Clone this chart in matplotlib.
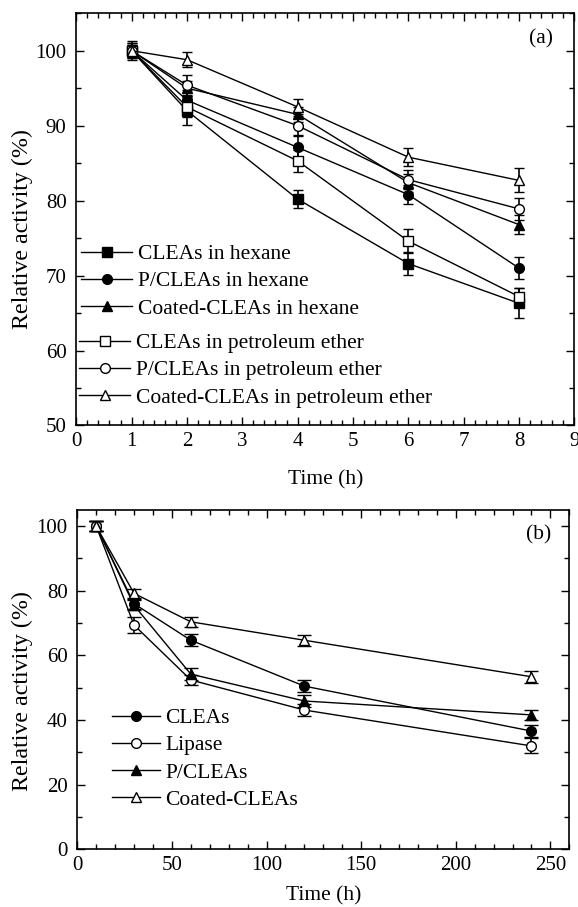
import matplotlib
matplotlib.use("Agg")
import matplotlib.pyplot as plt
from matplotlib.ticker import MultipleLocator

plt.rcParams['font.family'] = ['Liberation Serif', 'DejaVu Serif']
plt.rcParams['font.size'] = 15

# (a) stability in organic solvents
temps_a = [1, 2, 4, 6, 8]
labels_a = ["CLEAs in hexane", "P/CLEAs in hexane", "Coated-CLEAs in hexane",
            "CLEAs in petroleum ether", "P/CLEAs in petroleum ether",
            "Coated-CLEAs in petroleum ether"]
clea_hex = [100, 92.0, 80.2, 71.6, 66.3]
pclea_hex = [100, 93.4, 87.1, 80.8, 71.0]
coat_hex = [100, 95.0, 91.5, 82.4, 76.8]
clea_pe = [100, 92.5, 85.3, 74.6, 67.2]
pclea_pe = [100, 95.4, 90.0, 82.8, 78.9]
coat_pe = [100, 98.8, 92.5, 85.8, 82.7]
err_clea_hex = [1.3, 1.9, 1.2, 1.5, 2.0]
err_pclea_hex = [1.0, 1.3, 1.5, 1.3, 1.5]
err_coat_hex = [0.8, 1.0, 1.0, 1.2, 1.3]
err_clea_pe = [1.0, 1.3, 1.5, 1.6, 1.2]
err_pclea_pe = [0.8, 1.3, 1.3, 1.3, 1.5]
err_coat_pe = [0.6, 1.0, 1.0, 1.2, 1.6]

# (b) storage stability
temps_b = [10, 30, 60, 120, 240]
labels_b = ["CLEAs", "Lipase", "P/CLEAs", "Coated-CLEAs"]
clea_b = [100, 76.0, 64.7, 50.5, 36.6]
lipase_b = [100, 69.4, 52.4, 43.1, 32.0]
pclea_b = [100, 75.5, 54.2, 45.9, 41.6]
coat_b = [100, 79.2, 70.4, 64.7, 53.4]
err_clea_b = [1.5, 1.5, 1.8, 1.8, 1.8]
err_lipase_b = [1.5, 2.5, 1.6, 2.0, 2.3]
err_pclea_b = [1.5, 1.5, 1.8, 1.8, 1.5]
err_coat_b = [1.5, 1.5, 1.5, 1.7, 1.8]


def trace(ax, x, y, e, marker, filled, cap, ms=7):
    fc = 'black' if filled else 'white'
    h = ax.errorbar(x, y, yerr=e, color='black', lw=1, marker=marker, ms=ms,
                    mfc=fc, mec='black', mew=1, capsize=cap, capthick=1.2,
                    elinewidth=1.2)
    return h[0]


def style(ax):
    ax.tick_params(which='both', direction='in', top=True, right=True, width=1)
    ax.tick_params(which='major', length=6)
    ax.tick_params(which='minor', length=3.5)
    ax.tick_params(axis='y', pad=7)
    ax.tick_params(axis='x', pad=5)
    for s in ax.spines.values():
        s.set_linewidth(1.2)


leg_kw = dict(loc='upper left', frameon=False, borderpad=0, borderaxespad=0,
              handletextpad=0.25, labelspacing=0.33, fontsize=15.5)

fig = plt.figure(figsize=(5.78, 9.07), dpi=100)

ax1 = fig.add_axes([0.1320, 0.5309, 0.8616, 0.4545])
h1 = trace(ax1, temps_a, clea_hex, err_clea_hex, 's', True, 3.5)
h2 = trace(ax1, temps_a, pclea_hex, err_pclea_hex, 'o', True, 3.5)
h3 = trace(ax1, temps_a, coat_hex, err_coat_hex, '^', True, 3.5, ms=7.5)
h4 = trace(ax1, temps_a, clea_pe, err_clea_pe, 's', False, 3.5)
h5 = trace(ax1, temps_a, pclea_pe, err_pclea_pe, 'o', False, 3.5)
h6 = trace(ax1, temps_a, coat_pe, err_coat_pe, '^', False, 3.5, ms=7.5)
ax1.set_xlim(0, 9)
ax1.set_ylim(50, 105)
ax1.xaxis.set_major_locator(MultipleLocator(1))
ax1.xaxis.set_minor_locator(MultipleLocator(0.2))
ax1.yaxis.set_major_locator(MultipleLocator(10))
ax1.yaxis.set_minor_locator(MultipleLocator(5))
style(ax1)
ax1.set_xlabel("Time (h)", fontsize=15.5)
ax1.set_ylabel("Relative activity (%)", fontsize=17.3)
ax1.xaxis.set_label_coords(0.5, -0.108)
ax1.yaxis.set_label_coords(-0.087, 0.477)
ax1.text(0.933, 0.938, "(a)", transform=ax1.transAxes, ha='center', va='center',
         fontsize=15.5)
leg1 = ax1.legend([h1, h2, h3], labels_a[:3], bbox_to_anchor=(0.009, 0.440),
                  handlelength=2.4, **leg_kw)
ax1.add_artist(leg1)
ax1.legend([h4, h5, h6], labels_a[3:], bbox_to_anchor=(0.005, 0.224),
           handlelength=2.4, **leg_kw)

ax2 = fig.add_axes([0.1337, 0.0636, 0.8512, 0.3741])
g1 = trace(ax2, temps_b, clea_b, err_clea_b, 'o', True, 5)
g2 = trace(ax2, temps_b, lipase_b, err_lipase_b, 'o', False, 5)
g3 = trace(ax2, temps_b, pclea_b, err_pclea_b, '^', True, 5, ms=7.5)
g4 = trace(ax2, temps_b, coat_b, err_coat_b, '^', False, 5, ms=7.5)
ax2.set_xlim(0, 260)
ax2.set_ylim(0, 105)
ax2.xaxis.set_major_locator(MultipleLocator(50))
ax2.xaxis.set_minor_locator(MultipleLocator(10))
ax2.yaxis.set_major_locator(MultipleLocator(20))
ax2.yaxis.set_minor_locator(MultipleLocator(10))
style(ax2)
ax2.set_xlabel("Time (h)", fontsize=15.5)
ax2.set_ylabel("Relative activity (%)", fontsize=17.3)
ax2.xaxis.set_label_coords(0.5, -0.108)
ax2.yaxis.set_label_coords(-0.090, 0.467)
ax2.text(0.938, 0.926, "(b)", transform=ax2.transAxes, ha='center', va='center',
         fontsize=15.5)
ax2.legend([g1, g2, g3, g4], labels_b, bbox_to_anchor=(0.070, 0.416),
           handlelength=2.25, **leg_kw)

fig.savefig("out.png", dpi=100)
